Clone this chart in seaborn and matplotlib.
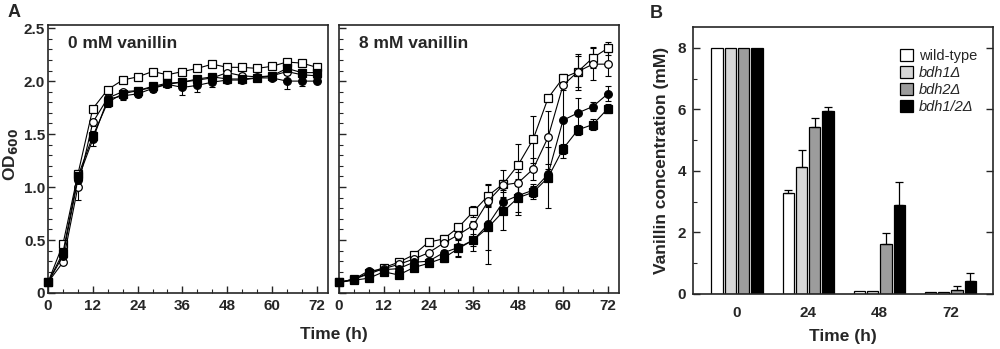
import numpy as np
import pandas as pd
import seaborn as sns
import matplotlib.pyplot as plt
from matplotlib.ticker import MultipleLocator, FixedLocator

# growth curves, OD600, sampled every 4 h
hours = [0, 4, 8, 12, 16, 20, 24, 28, 32, 36, 40, 44, 48, 52, 56, 60, 64, 68, 72]

wt_0 = [0.10, 0.46, 1.12, 1.74, 1.92, 2.01, 2.04, 2.09, 2.06, 2.09, 2.12, 2.16, 2.13, 2.13, 2.12, 2.14, 2.18, 2.17, 2.13]
bdh1_0 = [0.10, 0.29, 1.00, 1.61, 1.84, 1.90, 1.91, 1.94, 1.97, 1.99, 2.01, 2.03, 2.08, 2.05, 2.04, 2.05, 2.09, 2.06, 2.05]
bdh2_0 = [0.10, 0.35, 1.07, 1.45, 1.83, 1.86, 1.88, 1.93, 1.97, 1.94, 1.96, 1.99, 2.01, 2.01, 2.03, 2.03, 2.00, 2.00, 2.00]
bdh12_0 = [0.10, 0.38, 1.10, 1.48, 1.80, 1.88, 1.91, 1.95, 1.98, 1.99, 2.02, 2.04, 2.02, 2.02, 2.03, 2.05, 2.12, 2.08, 2.08]

wt_0_err = [0.01, 0.02, 0.02, 0.02, 0.02, 0.02, 0.02, 0.02, 0.02, 0.02, 0.02, 0.02, 0.02, 0.02, 0.02, 0.02, 0.03, 0.02, 0.02]
bdh1_0_err = [0.01, 0.02, 0.12, 0.03, 0.03, 0.02, 0.02, 0.02, 0.02, 0.02, 0.02, 0.02, 0.02, 0.02, 0.02, 0.02, 0.03, 0.02, 0.02]
bdh2_0_err = [0.01, 0.03, 0.05, 0.06, 0.05, 0.04, 0.03, 0.03, 0.03, 0.07, 0.06, 0.05, 0.03, 0.03, 0.02, 0.02, 0.07, 0.05, 0.02]
bdh12_0_err = [0.01, 0.03, 0.06, 0.05, 0.04, 0.03, 0.03, 0.03, 0.02, 0.02, 0.02, 0.02, 0.02, 0.02, 0.02, 0.02, 0.03, 0.03, 0.02]

wt_8 = [0.10, 0.13, 0.19, 0.24, 0.29, 0.36, 0.48, 0.51, 0.62, 0.77, 0.92, 1.03, 1.21, 1.45, 1.84, 2.03, 2.09, 2.22, 2.31]
bdh1_8 = [0.10, 0.13, 0.18, 0.23, 0.27, 0.32, 0.38, 0.47, 0.55, 0.64, 0.87, 1.02, 1.04, 1.17, 1.47, 1.96, 2.09, 2.16, 2.16]
bdh2_8 = [0.10, 0.13, 0.21, 0.22, 0.23, 0.29, 0.30, 0.38, 0.43, 0.50, 0.65, 0.86, 0.92, 0.97, 1.12, 1.63, 1.70, 1.76, 1.88]
bdh12_8 = [0.10, 0.12, 0.14, 0.20, 0.17, 0.24, 0.28, 0.33, 0.42, 0.50, 0.62, 0.77, 0.90, 0.95, 1.09, 1.36, 1.54, 1.59, 1.74]

wt_8_err = [0.01, 0.01, 0.01, 0.02, 0.02, 0.02, 0.02, 0.04, 0.03, 0.05, 0.10, 0.13, 0.20, 0.22, 0.03, 0.04, 0.15, 0.10, 0.06]
bdh1_8_err = [0.01, 0.01, 0.01, 0.02, 0.02, 0.02, 0.02, 0.03, 0.03, 0.04, 0.06, 0.05, 0.10, 0.10, 0.25, 0.04, 0.17, 0.15, 0.11]
bdh2_8_err = [0.01, 0.01, 0.02, 0.02, 0.02, 0.02, 0.02, 0.03, 0.08, 0.06, 0.38, 0.05, 0.16, 0.06, 0.05, 0.36, 0.14, 0.04, 0.07]
bdh12_8_err = [0.01, 0.01, 0.02, 0.02, 0.02, 0.02, 0.02, 0.04, 0.08, 0.10, 0.21, 0.18, 0.16, 0.06, 0.29, 0.05, 0.05, 0.05, 0.04]

# vanillin left in the medium (mM)
bar_times = ["0", "24", "48", "72"]
strains = ["wild-type", "bdh1Δ", "bdh2Δ", "bdh1/2Δ"]
bar_colors = ["white", "#d6d6d6", "#9c9c9c", "black"]
vanillin = {
    "wild-type": [8.0, 3.27, 0.08, 0.05],
    "bdh1Δ": [8.0, 4.13, 0.08, 0.05],
    "bdh2Δ": [8.0, 5.44, 1.63, 0.13],
    "bdh1/2Δ": [8.0, 5.95, 2.89, 0.43],
}
vanillin_err = {
    "wild-type": [0, 0.12, 0, 0],
    "bdh1Δ": [0, 0.55, 0, 0],
    "bdh2Δ": [0, 0.27, 0.34, 0.11],
    "bdh1/2Δ": [0, 0.11, 0.76, 0.24],
}

sns.set_style("ticks")
plt.rcParams["font.family"] = ["Liberation Sans", "DejaVu Sans"]
plt.rcParams["font.weight"] = "bold"
plt.rcParams["axes.linewidth"] = 1.2

fig = plt.figure(figsize=(10, 3.49), dpi=100)
ax1 = fig.add_axes([0.048, 0.1605, 0.28, 0.768])
ax2 = fig.add_axes([0.339, 0.1605, 0.28, 0.768])
axb = fig.add_axes([0.693, 0.158, 0.300, 0.765])

markers = [("s", "white"), ("o", "white"), ("o", "black"), ("s", "black")]


def growth_panel(ax, series, errs, title, show_labels):
    for (mk, face), vals, err in zip(markers, series, errs):
        ax.errorbar(hours, vals, yerr=err, fmt="none", ecolor="black",
                    elinewidth=0.8, capsize=2.5, capthick=0.8, zorder=2, clip_on=False)
        sns.lineplot(x=hours, y=vals, ax=ax, color="black", lw=0.8, marker=mk,
                     markersize=5.5, markerfacecolor=face, markeredgecolor="black",
                     markeredgewidth=0.9, zorder=3, clip_on=False)
    ax.set_xlim(0, 75)
    ax.set_ylim(0, 2.53)
    ax.xaxis.set_major_locator(FixedLocator([0, 12, 24, 36, 48, 60, 72]))
    ax.xaxis.set_minor_locator(MultipleLocator(4))
    ax.yaxis.set_major_locator(FixedLocator([0, 0.5, 1.0, 1.5, 2.0, 2.5]))
    ax.yaxis.set_minor_locator(MultipleLocator(0.1))
    ax.tick_params(which="both", direction="in", top=False, right=False, labelsize=11)
    ax.tick_params(axis="x", pad=4)
    ax.tick_params(axis="y", pad=2)
    ax.tick_params(which="major", length=5, width=1)
    ax.tick_params(which="minor", length=3, width=0.8)
    if show_labels:
        ax.set_yticklabels(["0", "0.5", "1.0", "1.5", "2.0", "2.5"])
    else:
        ax.set_yticklabels([])
    ax.set_xlabel("")
    ax.set_ylabel("")
    ax.text(0.07, 0.93, title, transform=ax.transAxes, fontsize=12.5,
            fontweight="bold", va="center", ha="left")
    for s in ax.spines.values():
        s.set_visible(True)


growth_panel(ax1, [wt_0, bdh1_0, bdh2_0, bdh12_0],
             [wt_0_err, bdh1_0_err, bdh2_0_err, bdh12_0_err], "0 mM vanillin", True)
growth_panel(ax2, [wt_8, bdh1_8, bdh2_8, bdh12_8],
             [wt_8_err, bdh1_8_err, bdh2_8_err, bdh12_8_err], "8 mM vanillin", False)

# vanillin bars
df = pd.DataFrame([
    {"time": t, "strain": s, "conc": vanillin[s][i]}
    for s in strains for i, t in enumerate(bar_times)
])
sns.barplot(data=df, x="time", y="conc", hue="strain", hue_order=strains,
            order=bar_times, palette=bar_colors, edgecolor="black", linewidth=0.9,
            width=0.75, gap=0.15, errorbar=None, ax=axb)

for cont, s in zip(axb.containers, strains):
    for patch, e in zip(cont.patches, vanillin_err[s]):
        if e > 0:
            xc = patch.get_x() + patch.get_width() / 2
            axb.errorbar(xc, patch.get_height(), yerr=[[0], [e]], fmt="none",
                         ecolor="black", elinewidth=0.9, capsize=3, capthick=0.9)

axb.set_xlim(-0.62, 3.6)
axb.set_ylim(0, 8.68)
axb.yaxis.set_major_locator(FixedLocator([0, 2, 4, 6, 8]))
axb.yaxis.set_minor_locator(MultipleLocator(1))
axb.tick_params(axis="y", which="both", direction="in", right=True, labelsize=11, pad=5)
axb.tick_params(axis="y", which="major", length=5, width=1)
axb.tick_params(axis="y", which="minor", length=3, width=0.8, right=False)
axb.tick_params(axis="x", length=0, labelsize=11, pad=9)
axb.set_xlabel("Time (h)", fontsize=12.5, fontweight="bold", labelpad=6)
axb.set_ylabel("Vanillin concentration (mM)", fontsize=12.5, fontweight="bold", labelpad=6)
for s in axb.spines.values():
    s.set_visible(True)

handles, labels = axb.get_legend_handles_labels()
leg = axb.legend(handles, labels, loc="upper left", bbox_to_anchor=(0.665, 0.945),
                 frameon=False, fontsize=10.5, handlelength=0.9, handleheight=0.9,
                 labelspacing=0.2, handletextpad=0.4, borderpad=0)
for txt in leg.get_texts():
    txt.set_fontweight("normal")
    if txt.get_text() != "wild-type":
        txt.set_fontstyle("italic")

fig.text(0.334, 0.042, "Time (h)", fontsize=12.5, fontweight="bold", ha="center", va="center")
fig.text(0.011, 0.556, r"OD$_{\mathbf{600}}$", fontsize=12.5, fontweight="bold",
         rotation=90, ha="center", va="center")
fig.text(0.008, 0.965, "A", fontsize=13, fontweight="bold", va="center")
fig.text(0.650, 0.962, "B", fontsize=13, fontweight="bold", va="center")

fig.savefig("out.png", dpi=100)
